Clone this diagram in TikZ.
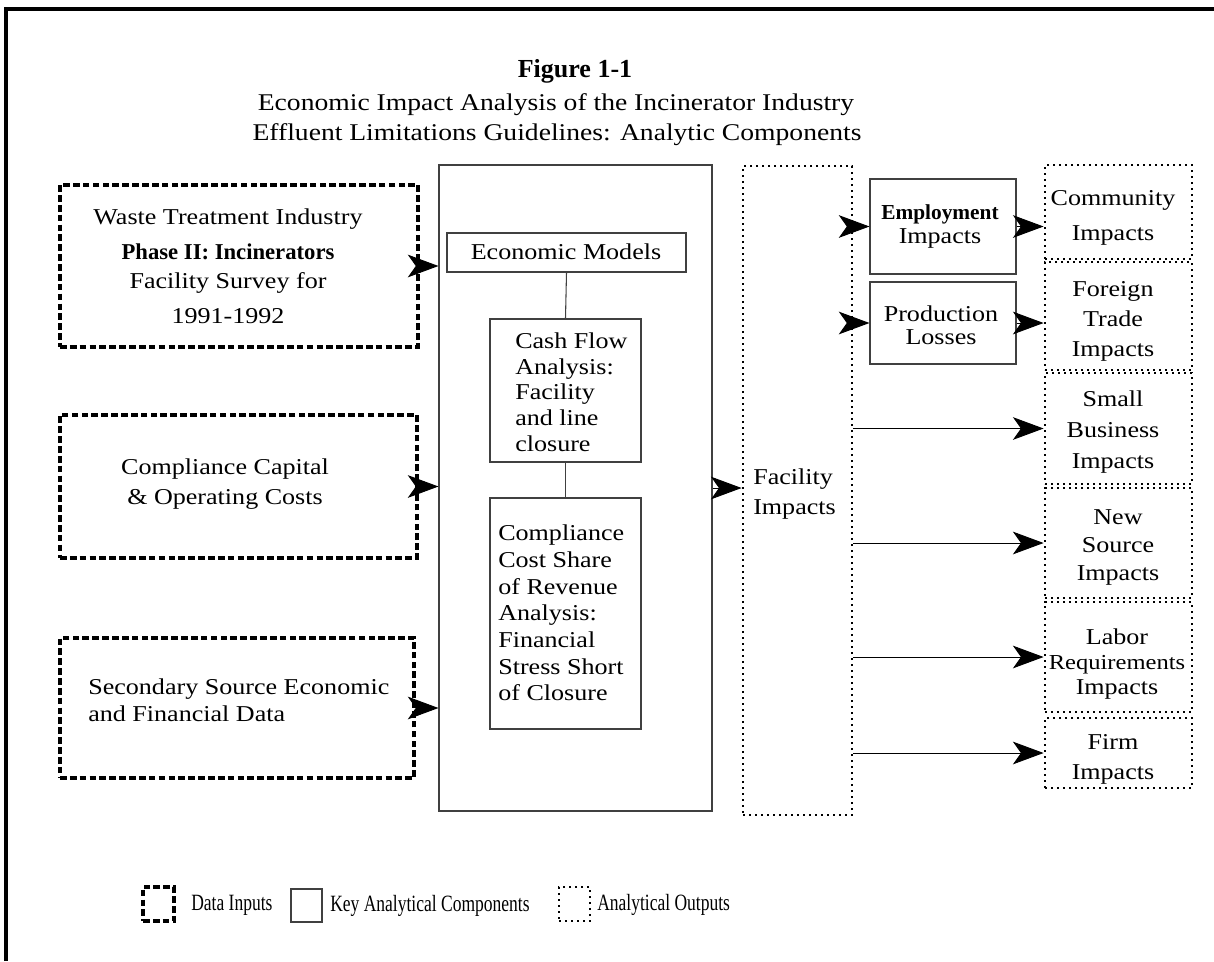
\documentclass[tikz,border=0pt]{standalone}
\usepackage{fontspec}
\setmainfont{Liberation Serif}[FakeStretch=1.15]
\newfontfamily\plainfont{Liberation Serif}
\newfontfamily\narrowfont{Liberation Serif}[FakeStretch=0.75]
\usetikzlibrary{arrows.meta,fit}
\begin{document}
\begin{tikzpicture}[x=0.75pt,y=-0.75pt,
  inbox/.style={draw, line width=2.7pt, dash pattern=on 5pt off 2.4pt, inner sep=0pt},
  keybox/.style={draw=black!75, line width=0.8pt, inner sep=0pt},
  outbox/.style={draw, line width=2.1pt, dash pattern=on 1.6pt off 2.9pt, inner sep=0pt},
  txt/.style={font=\fontsize{17}{22.5}\selectfont, inner sep=0pt, align=center},
  ltxt/.style={font=\fontsize{17}{20}\selectfont, inner sep=0pt, align=left},
  legtxt/.style={font=\narrowfont\fontsize{17.5}{20}\selectfont, inner sep=0pt, anchor=west},
  arr/.style={-{Stealth[length=23pt,width=17pt,inset=6pt]}, line width=0.7pt},
  link/.style={draw=black!75, line width=0.8pt}]
\useasboundingbox (0,0) rectangle (1214,961);
% outer frame (top and left)
\draw[line width=3pt] (6,961) -- (6,9) -- (1214,9);

% title
\node[font=\plainfont\bfseries\fontsize{19.5}{22}\selectfont, inner sep=0pt, anchor=base] (fig) at (575,77) {Figure 1-1};
\node[txt, font=\fontsize{18}{22}\selectfont, anchor=base] (title1) at (556,110) {Economic Impact Analysis of the Incinerator Industry};
\node[txt, font=\fontsize{18}{22}\selectfont, anchor=base] (title2) at (557,140) {Effluent Limitations Guidelines: Analytic Components};

% data inputs
\node[inbox, fit={(60,185) (418,347)}] (d1) {};
\node[txt] (d1t) at (228,266) {Waste Treatment Industry\\[4pt]
  {\plainfont\bfseries Phase II: Incinerators}\\[-1pt]
  Facility Survey for\hspace*{12pt}\\[4pt]
  1991-1992};
\node[inbox, fit={(60,415) (417,558)}] (d2) {};
\node[txt] (d2t) at (225,484) {Compliance Capital\\\& Operating Costs};
\node[inbox, fit={(60,638) (414,778)}] (d3) {};
\node[ltxt, anchor=west] (d3t) at (88,700) {Secondary Source Economic\\and Financial Data};

% key analytical components
\node[keybox, fit={(439,165) (712,811)}] (main) {};
\node[keybox, fit={(447,233) (686,272)}] (em) {};
\node[txt] (emt) at (566,252) {Economic Models};
\node[keybox, fit={(490,319) (641,462)}] (cf) {};
\node[ltxt, font=\fontsize{17}{19.3}\selectfont, anchor=west] (cft) at (515,392) {Cash Flow\\Analysis:\\Facility\\and line\\closure};
\node[keybox, fit={(490,498) (641,729)}] (cc) {};
\node[ltxt, anchor=west] (cct) at (498,613) {Compliance\\Cost Share\\of Revenue\\Analysis:\\Financial\\Stress Short\\of Closure};
\draw[link] (em.south) -- (cf.north);
\draw[link] (cf.south) -- (cc.north);

% facility impacts
\node[outbox, fit={(743,166) (852,815)}] (fac) {};
\node[ltxt, font=\fontsize{17}{23}\selectfont, anchor=west] (fact) at (753,494) {Facility\\Impacts};

\node[keybox, fit={(870,179) (1016,274)}] (emp) {};
\node[txt, font=\fontsize{17}{18}\selectfont] (empt) at (940,227) {{\plainfont\bfseries\fontsize{16}{18}\selectfont Employment}\\Impacts};
\node[keybox, fit={(870,282) (1016,364)}] (prod) {};
\node[txt, font=\fontsize{17}{17.5}\selectfont] (prodt) at (941,325) {Production\\Losses};

% analytical outputs
\node[outbox, fit={(1045,165) (1192,259)}] (comm) {};
\node[txt, font=\fontsize{17}{26}\selectfont] (commt) at (1113,218) {Community\\Impacts};
\node[outbox, fit={(1045,262) (1192,370)}] (forn) {};
\node[txt] (fornt) at (1113,321) {Foreign\\Trade\\Impacts};
\node[outbox, fit={(1045,373) (1192,484)}] (small) {};
\node[txt, font=\fontsize{17}{23.5}\selectfont] (smallt) at (1113,432) {Small\\Business\\Impacts};
\node[outbox, fit={(1045,488) (1192,598)}] (news) {};
\node[txt, font=\fontsize{17}{21}\selectfont] (newst) at (1118,547) {New\\Source\\Impacts};
\node[outbox, fit={(1045,602) (1192,712)}] (labor) {};
\node[txt, font=\fontsize{17}{19}\selectfont] (labort) at (1117,664) {Labor\\{\fontsize{16}{19}\selectfont Requirements}\\Impacts};
\node[outbox, fit={(1045,718) (1192,788)}] (firm) {};
\node[txt] (firmt) at (1113,759) {Firm\\Impacts};

% arrows
\draw[arr] (d1.east) -- (d1.east -| main.west);
\draw[arr] (d2.east) -- (d2.east -| main.west);
\draw[arr] (d3.east) -- (d3.east -| main.west);
\draw[arr] (main.east) -- (main.east -| fac.west);
\draw[arr] (emp.west -| fac.east) -- (emp.west);
\draw[arr] (prod.west -| fac.east) -- (prod.west);
\draw[arr] (emp.east) -- (emp.east -| comm.west);
\draw[arr] (prod.east) -- (prod.east -| forn.west);
\draw[arr] (small.west -| fac.east) -- (small.west);
\draw[arr] (news.west -| fac.east) -- (news.west);
\draw[arr] (labor.west -| fac.east) -- (labor.west);
\draw[arr] (firm.west -| fac.east) -- (firm.west);

% legend
\node[inbox, fit={(143,887) (174,921)}] (lg1) {};
\node[legtxt] (lg1t) at (191,905) {Data Inputs};
\node[keybox, fit={(291,889) (322,922)}] (lg2) {};
\node[legtxt] (lg2t) at (330,906) {Key Analytical Components};
\node[outbox, fit={(559,887) (590,921)}] (lg3) {};
\node[legtxt] (lg3t) at (597,905) {Analytical Outputs};
\end{tikzpicture}
\end{document}
